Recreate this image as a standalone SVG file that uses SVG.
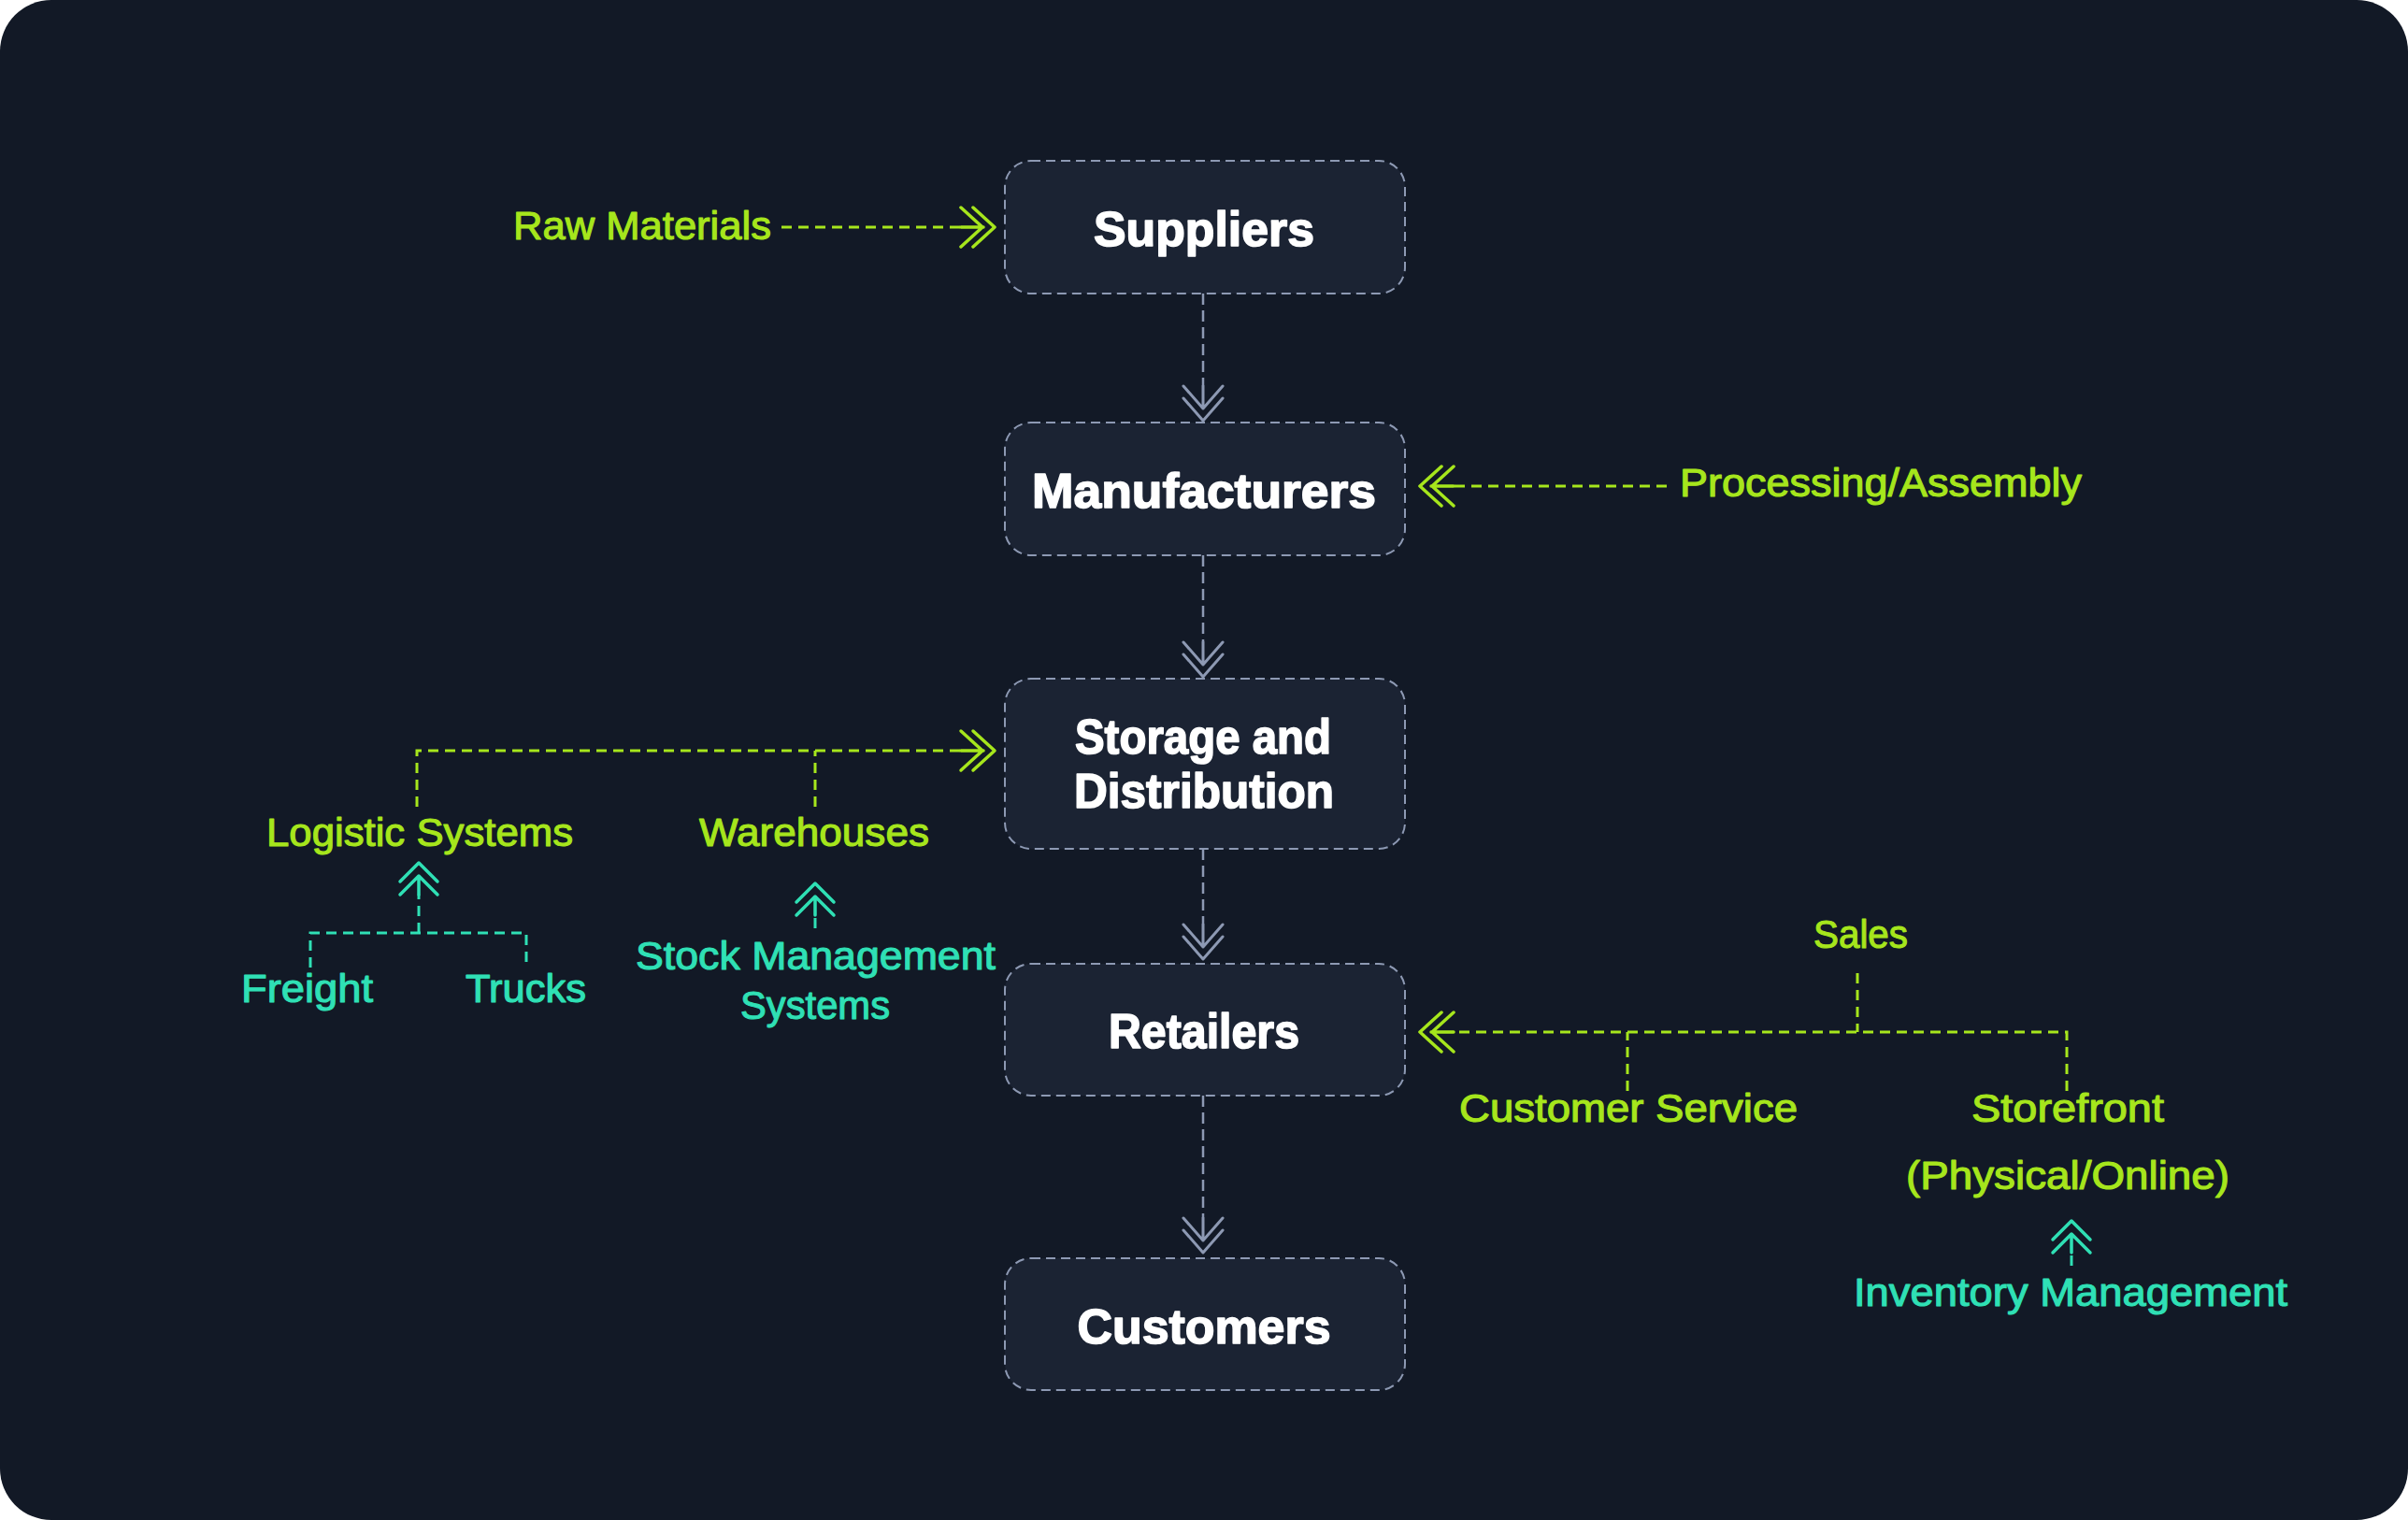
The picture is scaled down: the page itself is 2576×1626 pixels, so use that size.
<svg xmlns="http://www.w3.org/2000/svg" width="2576" height="1626" viewBox="0 0 2576 1626">
  <style>
    .node rect { fill: #1b2333; stroke: #8d99b3; stroke-width: 2; stroke-dasharray: 10 6; }
    .node text { fill: #ffffff; stroke: #ffffff; stroke-width: 1.6; stroke-linejoin: round; font-family: "Liberation Sans", Arial, sans-serif; font-weight: 700; font-size: 52px; text-anchor: middle; }
    .lbl { font-family: "Liberation Sans", Arial, sans-serif; font-size: 42px; stroke-width: 1.1; stroke-linejoin: round; }
    .lime { fill: #a6e61c; stroke: #a6e61c; }
    .teal { fill: #2fe0b5; stroke: #2fe0b5; }
    .c-grey { fill: none; stroke: #8d99b3; stroke-width: 2.5; stroke-dasharray: 12 6; }
    .c-lime { fill: none; stroke: #a6e61c; stroke-width: 3; stroke-dasharray: 11 7; }
    .c-teal { fill: none; stroke: #2fe0b5; stroke-width: 3; stroke-dasharray: 11 7; }
  </style>
  <defs>
    <marker id="ah-grey" markerUnits="userSpaceOnUse" markerWidth="60" markerHeight="60" refX="0" refY="0" viewBox="-5 -30 60 60" orient="auto" overflow="visible">
      <path d="M0 0 L24 0 M0 -21 L24 0 L0 21 M13 -21 L37 0 L13 21" fill="none" stroke="#8d99b3" stroke-width="3" stroke-linecap="round" stroke-linejoin="round"/>
    </marker>
    <marker id="ah-lime" markerUnits="userSpaceOnUse" markerWidth="60" markerHeight="60" refX="0" refY="0" viewBox="-5 -30 60 60" orient="auto" overflow="visible">
      <path d="M0 0 L24 0 M0 -21 L23 0 L0 21 M13 -21 L36 0 L13 21" fill="none" stroke="#a6e61c" stroke-width="3.5" stroke-linecap="round" stroke-linejoin="round"/>
    </marker>
    <marker id="ah-teal" markerUnits="userSpaceOnUse" markerWidth="60" markerHeight="60" refX="0" refY="0" viewBox="-5 -30 60 60" orient="auto" overflow="visible">
      <path d="M0 0 L20 0 M0 -20 L20 0 L0 20 M14 -20 L34 0 L14 20" fill="none" stroke="#2fe0b5" stroke-width="3.5" stroke-linecap="round" stroke-linejoin="round"/>
    </marker>
  </defs>

  <rect x="0" y="0" width="2576" height="1626" fill="#ffffff"/>
  <rect x="0" y="0" width="2576" height="1626" rx="55" ry="55" fill="#121926"/>

  <g id="connectors">
    <!-- main flow -->
    <path class="c-grey" d="M1287 314 V413" marker-end="url(#ah-grey)"/>
    <path class="c-grey" d="M1287 594 V687" marker-end="url(#ah-grey)"/>
    <path class="c-grey" d="M1287 908 V989" marker-end="url(#ah-grey)"/>
    <path class="c-grey" d="M1287 1172 V1303" marker-end="url(#ah-grey)"/>
    <!-- lime inputs -->
    <path class="c-lime" d="M836 243 H1028" marker-end="url(#ah-lime)"/>
    <path class="c-lime" d="M1783 520 H1555" marker-end="url(#ah-lime)"/>
    <path class="c-lime" d="M446 863 V803 H1028" marker-end="url(#ah-lime)"/>
    <path class="c-lime" d="M872 863 V803"/>
    <path class="c-lime" d="M2211 1167 V1104 H1555" marker-end="url(#ah-lime)"/>
    <path class="c-lime" d="M1987 1041 V1104"/>
    <path class="c-lime" d="M1741 1167 V1104"/>
    <!-- teal sub-inputs -->
    <path class="c-teal" d="M332 1035 V998 H563 V1035"/>
    <path class="c-teal" d="M448 998 V957" marker-end="url(#ah-teal)"/>
    <path class="c-teal" d="M872 993 V979" marker-end="url(#ah-teal)"/>
    <path class="c-teal" d="M2216 1354 V1340" marker-end="url(#ah-teal)"/>
  </g>

  <g id="suppliers" class="node">
    <rect x="1075" y="172" width="428" height="142" rx="28"/>
    <text x="1288" y="263" textLength="236" lengthAdjust="spacingAndGlyphs">Suppliers</text>
  </g>
  <g id="manufacturers" class="node">
    <rect x="1075" y="452" width="428" height="142" rx="28"/>
    <text x="1288" y="543" textLength="368" lengthAdjust="spacingAndGlyphs">Manufacturers</text>
  </g>
  <g id="storage" class="node">
    <rect x="1075" y="726" width="428" height="182" rx="28"/>
    <text x="1287" y="806" textLength="274" lengthAdjust="spacingAndGlyphs">Storage and</text>
    <text x="1288" y="864" textLength="278" lengthAdjust="spacingAndGlyphs">Distribution</text>
  </g>
  <g id="retailers" class="node">
    <rect x="1075" y="1031" width="428" height="141" rx="28"/>
    <text x="1288" y="1121" textLength="204" lengthAdjust="spacingAndGlyphs">Retailers</text>
  </g>
  <g id="customers" class="node">
    <rect x="1075" y="1346" width="428" height="141" rx="28"/>
    <text x="1288" y="1437" textLength="271" lengthAdjust="spacingAndGlyphs">Customers</text>
  </g>

  <g id="raw-materials"><text class="lbl lime" x="549" y="256" textLength="276" lengthAdjust="spacingAndGlyphs">Raw Materials</text></g>
  <g id="processing"><text class="lbl lime" x="1797" y="531" textLength="430" lengthAdjust="spacingAndGlyphs">Processing/Assembly</text></g>
  <g id="logistic-systems"><text class="lbl lime" x="285" y="905" textLength="328" lengthAdjust="spacingAndGlyphs">Logistic Systems</text></g>
  <g id="warehouses"><text class="lbl lime" x="748" y="905" textLength="246" lengthAdjust="spacingAndGlyphs">Warehouses</text></g>
  <g id="freight"><text class="lbl teal" x="258" y="1072" textLength="141" lengthAdjust="spacingAndGlyphs">Freight</text></g>
  <g id="trucks"><text class="lbl teal" x="498" y="1072" textLength="129" lengthAdjust="spacingAndGlyphs">Trucks</text></g>
  <g id="stock-management">
    <text class="lbl teal" x="680" y="1037" textLength="385" lengthAdjust="spacingAndGlyphs">Stock Management</text>
    <text class="lbl teal" x="792" y="1090" textLength="160" lengthAdjust="spacingAndGlyphs">Systems</text>
  </g>
  <g id="sales"><text class="lbl lime" x="1940" y="1014" textLength="101" lengthAdjust="spacingAndGlyphs">Sales</text></g>
  <g id="customer-service"><text class="lbl lime" x="1561" y="1200" textLength="362" lengthAdjust="spacingAndGlyphs">Customer Service</text></g>
  <g id="storefront">
    <text class="lbl lime" x="2109" y="1200" textLength="206" lengthAdjust="spacingAndGlyphs">Storefront</text>
    <text class="lbl lime" x="2039" y="1272" textLength="346" lengthAdjust="spacingAndGlyphs">(Physical/Online)</text>
  </g>
  <g id="inventory-management"><text class="lbl teal" x="1983" y="1397" textLength="464" lengthAdjust="spacingAndGlyphs">Inventory Management</text></g>
</svg>
